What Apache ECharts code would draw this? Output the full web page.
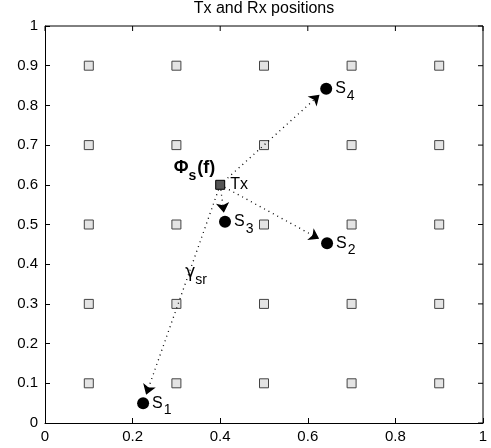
<!DOCTYPE html>
<html>
<head>
<meta charset="utf-8">
<script src="https://cdn.jsdelivr.net/npm/echarts@6/dist/echarts.min.js"></script>
<style>html,body{margin:0;padding:0;background:#fff}#c{width:491px;height:448px}</style>
</head>
<body>
<div id="c"></div>
<script>
// ---- data ----
const titleText = 'Tx and Rx positions';
const xTicks = [0, 0.2, 0.4, 0.6, 0.8, 1];
const yTicks = [0, 0.1, 0.2, 0.3, 0.4, 0.5, 0.6, 0.7, 0.8, 0.9, 1];
const rxGridX = [0.1, 0.3, 0.5, 0.7, 0.9];
const rxGridY = [0.1, 0.3, 0.5, 0.7, 0.9];
const txPos = [0.4, 0.6];
const srcNames = ['1', '2', '3', '4'];
const srcX = [0.224, 0.644, 0.411, 0.642];
const srcY = [0.050, 0.453, 0.507, 0.842];

const FONT = 'Liberation Sans, Arial, Helvetica, sans-serif';
const rxPoints = [];
rxGridX.forEach(x => rxGridY.forEach(y => rxPoints.push([x, y])));
const srcPoints = srcX.map((x, i) => ({ value: [x, srcY[i]], name: srcNames[i] }));
const xMin = xTicks[0], xMax = xTicks[xTicks.length - 1];
const yMin = yTicks[0], yMax = yTicks[yTicks.length - 1];

const chart = echarts.init(document.getElementById('c'));
const fmt = v => String(+v.toFixed(1));

function mainAxis(pos, interval, margin) {
  return {
    type: 'value', position: pos, interval: interval,
    min: pos === 'bottom' ? xMin : yMin, max: pos === 'bottom' ? xMax : yMax,
    axisLine: { show: true, onZero: false, lineStyle: { color: '#000', width: 1 } },
    axisTick: { show: true, inside: true, length: 5, lineStyle: { color: '#000', width: 1 } },
    splitLine: { show: false },
    axisLabel: { color: '#000', fontSize: 15, fontFamily: FONT, margin: margin, formatter: fmt }
  };
}

const option = {
  animation: false,
  grid: { left: 45, right: 8, top: 26, bottom: 25 },
  xAxis: [mainAxis('bottom', 0.2, 6)],
  yAxis: [mainAxis('left', 0.1, 7)],
  series: [
    {
      name: 'Rx', type: 'scatter', symbol: 'rect', symbolSize: 9,
      itemStyle: { color: '#e4e4e4', borderColor: '#444', borderWidth: 1, opacity: 1 },
      data: rxPoints, z: 2, silent: true
    },
    {
      name: 'links', type: 'lines', coordinateSystem: 'cartesian2d',
      symbol: ['none', 'arrow'], symbolSize: 10,
      lineStyle: { color: '#000', width: 1.3, type: [1, 4], opacity: 1 },
      itemStyle: { color: '#000' },
      data: [], z: 3, silent: true
    },
    {
      name: 'Tx', type: 'scatter', symbol: 'rect', symbolSize: 9,
      itemStyle: { color: '#555', borderColor: '#000', borderWidth: 1, opacity: 1 },
      label: { show: true, position: 'right', distance: 5, formatter: 'Tx',
        color: '#000', fontSize: 16, fontFamily: FONT },
      data: [txPos], z: 4, silent: true
    },
    {
      name: 'S', type: 'scatter', symbol: 'circle', symbolSize: 12,
      itemStyle: { color: '#000', opacity: 1 },
      label: { show: true, position: 'right', distance: 3,
        formatter: p => '{a|S}{b|' + p.name + '}',
        rich: {
          a: { fontSize: 16, fontFamily: FONT, color: '#000', lineHeight: 17 },
          b: { fontSize: 14, fontFamily: FONT, color: '#000', padding: [14, 0, 0, 1] }
        } },
      data: srcPoints, z: 5, silent: true
    },
    {
      name: 'annot', type: 'scatter', symbolSize: 0, itemStyle: { color: 'rgba(0,0,0,0)', opacity: 1 }, silent: true,
      label: { show: true, position: 'right', distance: 0, color: '#000' },
      data: [
        { value: [0.294, 0.642], label: {
          formatter: '{a|Φ}{b|s}{a|(f)}',
          rich: {
            a: { fontSize: 18, fontWeight: 'bold', fontFamily: FONT, color: '#000', lineHeight: 19 },
            b: { fontSize: 14, fontWeight: 'bold', fontFamily: FONT, color: '#000', padding: [16, 1, 0, 0] }
          } } },
        { value: [0.32, 0.378], label: {
          formatter: '{a|γ}{b|sr}',
          rich: {
            a: { fontSize: 17, fontFamily: 'DejaVu Sans, ' + FONT, color: '#000', lineHeight: 18 },
            b: { fontSize: 14, fontFamily: FONT, color: '#000', padding: [14, 0, 0, 0] }
          } } }
      ], z: 6
    },
    {
      name: 'frame', type: 'line', showSymbol: false, symbol: 'none', clip: false,
      connectNulls: false, silent: true,
      lineStyle: { color: '#000', width: 1, type: 'solid', opacity: 1 },
      data: [], z: 7, animation: false
    }
  ]
};
chart.setOption(option);

const C = { xAxisIndex: 0, yAxisIndex: 0 };
// arrow endpoints: stop a few pixels before each source circle
const gapPx = 9;
const tp = chart.convertToPixel(C, txPos);
const linkData = srcPoints.map(s => {
  const sp = chart.convertToPixel(C, s.value);
  const dx = tp[0] - sp[0], dy = tp[1] - sp[1];
  const L = Math.sqrt(dx * dx + dy * dy);
  const ep = [sp[0] + dx / L * gapPx, sp[1] + dy / L * gapPx];
  return { coords: [txPos, chart.convertFromPixel(C, ep)] };
});

// top and right edges of the box, with inward ticks, from the axis extents and tick values
const tickPx = 5;
function offset(pt, dxp, dyp) {
  const p = chart.convertToPixel(C, pt);
  return chart.convertFromPixel(C, [p[0] + dxp, p[1] + dyp]);
}
const frameData = [[xMin, yMax], [xMax, yMax], [xMax, yMin], null];
xTicks.forEach(x => { frameData.push([x, yMax], offset([x, yMax], 0, tickPx), null); });
yTicks.forEach(y => { frameData.push([xMax, y], offset([xMax, y], -tickPx, 0), null); });

const p00 = chart.convertToPixel(C, [xMin, yMin]);
const p11 = chart.convertToPixel(C, [xMax, yMax]);
chart.setOption({
  graphic: [
    { type: 'text', x: (p00[0] + p11[0]) / 2, y: 1,
      style: { text: titleText, font: '16px ' + FONT, fill: '#000', align: 'center', verticalAlign: 'top' } }
  ],
  series: [{}, { data: linkData }, {}, {}, {}, { data: frameData }]
});
</script>
</body>
</html>
